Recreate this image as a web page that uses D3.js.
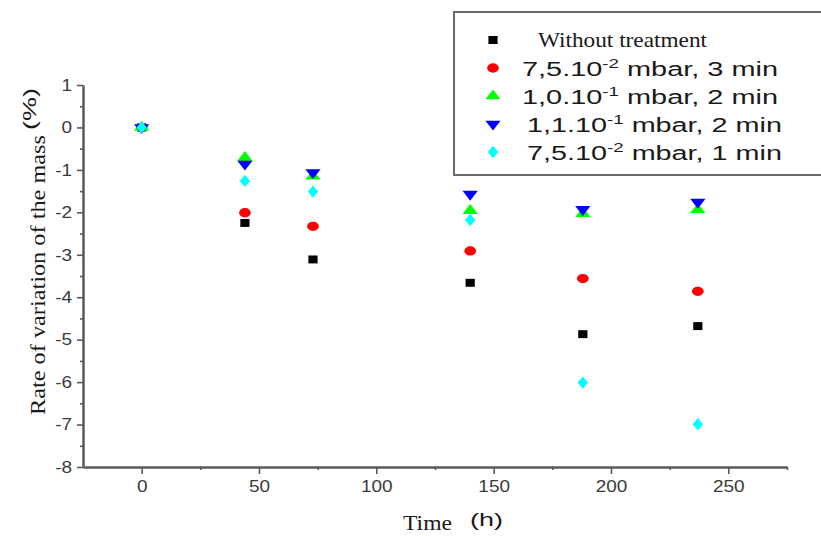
<!DOCTYPE html>
<html><head><meta charset="utf-8">
<script src="https://cdn.jsdelivr.net/npm/d3@7"></script>
<style>body{margin:0;background:#fff}svg{display:block}</style>
</head><body>
<svg id="c" width="821" height="536"></svg>
<script>
const times = [0, 44, 73, 140, 188, 237];
const withoutTreatment = [0, -2.25, -3.11, -3.66, -4.87, -4.68];
const p75_3min = [0, -2.01, -2.33, -2.91, -3.56, -3.86];
const p10_2min = [0, -0.71, -1.15, -1.96, -2.03, -1.94];
const p11_2min = [0, -0.86, -1.06, -1.57, -1.93, -1.76];
const p75_1min = [0, -1.26, -1.51, -2.18, -6.01, -6.99];
const xMajorTicks = [0, 50, 100, 150, 200, 250];
const xMinorTicks = [25, 75, 125, 175, 225, 275];
const yMajorTicks = [1, 0, -1, -2, -3, -4, -5, -6, -7, -8];
const yMinorTicks = [0.5, -0.5, -1.5, -2.5, -3.5, -4.5, -5.5, -6.5, -7.5];

const series = [
  {name: "Without treatment", vals: withoutTreatment, color: "#000000", shape: "square"},
  {name: ["7,5.10", "-2", " mbar, 3 min"], vals: p75_3min, color: "#ff0000", shape: "circle"},
  {name: ["1,0.10", "-1", " mbar, 2 min"], vals: p10_2min, color: "#00ff00", shape: "up"},
  {name: ["1,1.10", "-1", " mbar, 2 min"], vals: p11_2min, color: "#0000ff", shape: "down"},
  {name: ["7,5.10", "-2", " mbar, 1 min"], vals: p75_1min, color: "#00ffff", shape: "diamond"}
];

const SANS = "Liberation Sans, Arial, sans-serif";
const SERIF = "Liberation Serif, Times New Roman, serif";
const svg = d3.select("#c");
const x = d3.scaleLinear().domain([-25, 275]).range([83, 787]);
const y = d3.scaleLinear().domain([-8, 1]).range([467, 85]);
const axisColor = "#5a5a5a";
const labelColor = "#3a3a3a";

function stretch(sel, f) {
  sel.each(function () {
    const w = this.getComputedTextLength();
    if (w > 0) d3.select(this).attr("textLength", w * f).attr("lengthAdjust", "spacingAndGlyphs");
  });
}

function style(g) {
  g.select(".domain").attr("stroke", axisColor).attr("stroke-width", 2);
  g.selectAll(".tick line").attr("stroke", axisColor).attr("stroke-width", 1.6);
  g.selectAll(".tick text").attr("fill", labelColor)
    .style("font-family", SANS).style("font-size", "16.5px");
  stretch(g.selectAll(".tick text"), 1.15);
}

// x axis
svg.append("g").attr("transform", "translate(0,467)")
  .call(d3.axisBottom(x).tickValues(xMinorTicks).tickSize(3).tickSizeOuter(0).tickFormat(""))
  .call(style);
svg.append("g").attr("transform", "translate(0,467)")
  .call(d3.axisBottom(x).tickValues(xMajorTicks).tickSize(7).tickSizeOuter(0).tickPadding(6))
  .call(style);
// y axis
svg.append("g").attr("transform", "translate(83,0)")
  .call(d3.axisLeft(y).tickValues(yMinorTicks).tickSize(3).tickSizeOuter(0).tickFormat(""))
  .call(style);
svg.append("g").attr("transform", "translate(83,0)")
  .call(d3.axisLeft(y).tickValues(yMajorTicks).tickSize(6).tickSizeOuter(0).tickPadding(5)
    .tickFormat(d => d < 0 ? "-" + Math.abs(d) : d))
  .call(style);

function shapePath(shape) {
  const map = {square: d3.symbolSquare, circle: d3.symbolCircle, up: d3.symbolTriangle,
    down: d3.symbolTriangle, diamond: d3.symbolDiamond};
  const size = {square: 70, circle: 75, up: 70, down: 70, diamond: 60}[shape];
  return d3.symbol().type(map[shape]).size(size)();
}
function markTransform(shape, px, py) {
  const sx = {square: 1.1, circle: 1.2, up: 1.2, down: 1.2, diamond: 1.25}[shape];
  const sy = {square: 0.95, circle: 0.95, up: 0.9, down: -0.9, diamond: 0.85}[shape];
  return `translate(${px},${py}) scale(${sx},${sy})`;
}

// points
series.forEach(s => {
  svg.append("g").selectAll("path").data(s.vals.map((v, i) => ({t: times[i], v})))
    .join("path")
    .attr("d", shapePath(s.shape))
    .attr("transform", d => markTransform(s.shape, x(d.t), y(d.v)))
    .attr("fill", s.color);
});

// legend
const lg = svg.append("g");
lg.append("rect").attr("x", 454).attr("y", 12).attr("width", 380).attr("height", 163)
  .attr("fill", "#fff").attr("stroke", "#6a6a6a").attr("stroke-width", 2);
const rowY = [40, 68, 96, 124, 152];
const textX = [538, 522, 522, 527, 527];
const textW = [169, 256, 256, 255, 255];
series.forEach((s, i) => {
  lg.append("path").attr("d", shapePath(s.shape))
    .attr("transform", markTransform(s.shape, 493, rowY[i]))
    .attr("fill", s.color);
  if (typeof s.name === "string") {
    lg.append("text").attr("x", textX[i]).attr("y", rowY[i] + 7)
      .style("font-family", SERIF).style("font-size", "21px")
      .attr("textLength", textW[i]).attr("lengthAdjust", "spacingAndGlyphs")
      .attr("fill", "#1a1a1a").text(s.name);
  } else {
    const t = lg.append("text").attr("x", textX[i]).attr("y", rowY[i] + 8)
      .style("font-family", SANS).style("font-size", "20px")
      .attr("fill", "#1a1a1a");
    t.append("tspan").text(s.name[0]);
    t.append("tspan").attr("dy", -8).style("font-size", "13px").text(s.name[1]);
    t.append("tspan").attr("dy", 8).text(s.name[2]);
    t.attr("textLength", textW[i]).attr("lengthAdjust", "spacingAndGlyphs");
  }
});

// axis titles
svg.append("text").attr("transform", "translate(45,415) rotate(-90)")
  .style("font-family", SERIF).style("font-size", "22px").attr("fill", "#1a1a1a")
  .attr("textLength", 280).attr("lengthAdjust", "spacingAndGlyphs")
  .text("Rate of variation of the mass");
svg.append("text").attr("transform", "translate(36,130) rotate(-90)")
  .style("font-family", SANS).style("font-size", "19px").attr("fill", "#1a1a1a")
  .attr("textLength", 42).attr("lengthAdjust", "spacingAndGlyphs")
  .text("(%)");

svg.append("text").attr("x", 403).attr("y", 530)
  .style("font-family", SERIF).style("font-size", "21px")
  .attr("textLength", 49).attr("lengthAdjust", "spacingAndGlyphs")
  .attr("fill", "#1a1a1a").text("Time");
svg.append("text").attr("x", 470).attr("y", 526)
  .style("font-family", SANS).style("font-size", "19px")
  .attr("textLength", 33).attr("lengthAdjust", "spacingAndGlyphs")
  .attr("fill", "#1a1a1a").text("(h)");
</script>
</body></html>
